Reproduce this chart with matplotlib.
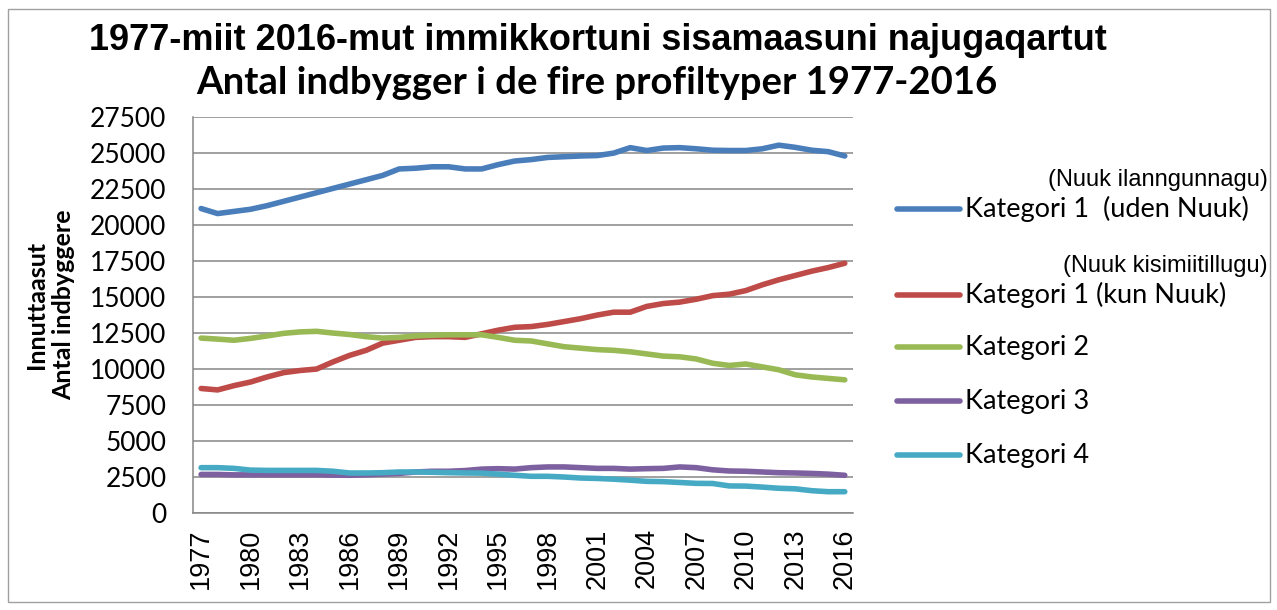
import numpy as np
import matplotlib.pyplot as plt
from matplotlib.lines import Line2D
from matplotlib.patches import Rectangle

years = list(range(1977, 2017))

kat1_uden_nuuk = [21150, 20800, 20950, 21100, 21350, 21650, 21950, 22250, 22550, 22850,
                  23150, 23450, 23900, 23950, 24050, 24050, 23900, 23900, 24200, 24450,
                  24550, 24700, 24750, 24800, 24830, 25000, 25380, 25180, 25350, 25380,
                  25300, 25200, 25180, 25180, 25300, 25550, 25400, 25200, 25100, 24800]
kat1_kun_nuuk = [8650, 8550, 8850, 9100, 9450, 9750, 9900, 10000, 10500, 10950,
                 11300, 11800, 12000, 12200, 12250, 12250, 12200, 12450, 12700, 12900,
                 12950, 13100, 13300, 13500, 13750, 13950, 13950, 14350, 14550, 14650,
                 14850, 15100, 15200, 15450, 15850, 16200, 16500, 16800, 17050, 17350]
kat2 = [12150, 12080, 12000, 12130, 12300, 12480, 12580, 12620, 12500, 12400,
        12250, 12150, 12200, 12300, 12350, 12380, 12380, 12380, 12200, 12000,
        11950, 11750, 11550, 11450, 11350, 11300, 11200, 11050, 10900, 10850,
        10700, 10400, 10250, 10350, 10150, 9950, 9600, 9450, 9350, 9250]
kat3 = [2680, 2680, 2650, 2650, 2650, 2650, 2650, 2650, 2630, 2620,
        2650, 2700, 2750, 2850, 2900, 2900, 2950, 3050, 3080, 3050,
        3150, 3200, 3200, 3150, 3100, 3100, 3050, 3080, 3100, 3200,
        3150, 3000, 2920, 2900, 2850, 2800, 2780, 2750, 2700, 2620]
kat4 = [3150, 3150, 3100, 2980, 2960, 2960, 2960, 2960, 2900, 2780,
        2780, 2800, 2850, 2850, 2830, 2800, 2780, 2770, 2700, 2620,
        2550, 2550, 2500, 2430, 2400, 2350, 2280, 2200, 2180, 2120,
        2060, 2050, 1880, 1870, 1800, 1720, 1680, 1550, 1480, 1480]

series = [kat1_uden_nuuk, kat1_kun_nuuk, kat2, kat3, kat4]
labels = ['Kategori 1  (uden Nuuk)', 'Kategori 1 (kun Nuuk)', 'Kategori 2', 'Kategori 3', 'Kategori 4']
sublabels = ['(Nuuk ilanngunnagu)', '(Nuuk kisimiitillugu)', None, None, None]
colors = ['#4A7EBB', '#BE4B48', '#98B954', '#7D60A0', '#46AAC5']

title1 = '1977-miit 2016-mut immikkortuni sisamaasuni najugaqartut'
title2 = 'Antal indbygger i de fire profiltyper 1977-2016'
ylabel = 'Innuttaasut\nAntal indbyggere'

fig = plt.figure(figsize=(12.77, 6.1), dpi=100)
ax = fig.add_axes([0.151, 0.159, 0.517, 0.649])

lines = []
for vals, c in zip(series, colors):
    l, = ax.plot(years, vals, color=c, lw=4, solid_capstyle='round', zorder=3)
    lines.append(l)

ax.set_xlim(1976.5, 2016.5)
ax.set_ylim(0, 27500)
ax.set_yticks(np.arange(0, 27501, 2500))
ax.set_xticks(years[::3])
ax.grid(axis='y', color='#868686', lw=1.1)
ax.set_axisbelow(True)
for s in ['top', 'right']:
    ax.spines[s].set_visible(False)
for s in ['left', 'bottom']:
    ax.spines[s].set_color('#868686')
    ax.spines[s].set_linewidth(1.1)
ax.tick_params(axis='y', length=0, pad=19, labelsize=19)
ax.tick_params(axis='x', length=0, pad=11, labelsize=19.5, labelrotation=90)
for t in ax.get_yticklabels():
    t.set_family('Lato')
for t in ax.get_xticklabels():
    t.set_family('Liberation Sans')

fig.text(0.468, 0.934, title1, ha='center', va='center', fontsize=26,
         fontweight='bold', family='Liberation Sans')
fig.text(0.467, 0.864, title2, ha='center', va='center', fontsize=27.5,
         fontweight='bold', family='Lato')
fig.text(0.039, 0.5, ylabel, ha='center', va='center', rotation=90,
         multialignment='center', fontsize=18, fontweight='bold', family='Lato')

# legend, drawn by hand to keep the two-line labels
leg_y = [209, 295, 347, 401, 455]
for l, lab, sub, y in zip(lines, labels, sublabels, leg_y):
    fy = 1 - y / 610
    fig.add_artist(Line2D([897 / 1277, 960 / 1277], [fy, fy], color=l.get_color(),
                          lw=4, solid_capstyle='round'))
    fig.text(965 / 1277, fy, lab, ha='left', va='center', fontsize=19.5, family='Lato')
    if sub:
        fig.text(1268 / 1277, fy + 29 / 610, sub, ha='right', va='center',
                 fontsize=17, family='Liberation Sans')

fig.add_artist(Rectangle((8 / 1277, 8 / 610), 1262 / 1277, 593 / 610,
                         transform=fig.transFigure, fill=False, ec='#A0A0A0', lw=1))

fig.savefig('out.png', dpi=100)
